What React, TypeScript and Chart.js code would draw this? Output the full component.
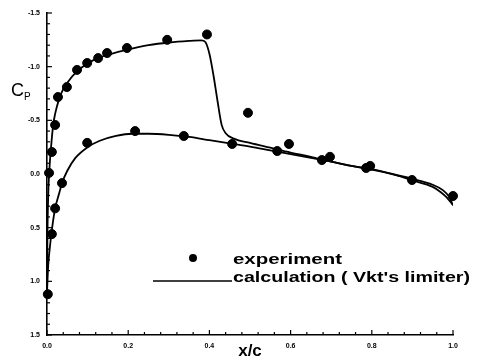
import React, { useEffect, useRef } from "react";
import { Chart, registerables } from "chart.js";

Chart.register(...registerables);

// Experimental Cp data (x/c, Cp)
const expX = [
  0.005, 0.012, 0.02, 0.027, 0.049, 0.074, 0.099, 0.126, 0.148, 0.197, 0.296, 0.394,
  0.495, 0.596, 0.697, 0.796,
  0.002, 0.012, 0.02, 0.037, 0.099, 0.217, 0.337, 0.456, 0.567, 0.677, 0.786, 0.899, 1.0,
];
const expCp = [
  -0.01, -0.205, -0.457, -0.717, -0.81, -0.97, -1.034, -1.08, -1.127, -1.174, -1.25, -1.3,
  -0.57, -0.28, -0.16, -0.075,
  1.12, 0.56, 0.32, 0.085, -0.29, -0.4, -0.354, -0.28, -0.214, -0.13, -0.056, 0.056, 0.205,
];

// Calculation, upper surface
const upperX = [
  0.0, 0.001, 0.003, 0.006, 0.01, 0.015, 0.02, 0.03, 0.04, 0.05, 0.075, 0.1, 0.125, 0.15,
  0.2, 0.25, 0.3, 0.35, 0.38, 0.39, 0.4, 0.41, 0.42, 0.43, 0.44, 0.46, 0.5, 0.55, 0.6,
  0.65, 0.7, 0.75, 0.8, 0.85, 0.9, 0.95, 0.975, 0.99, 1.0,
];
const upperCp = [
  1.1, 0.6, 0.2, -0.05, -0.25, -0.45, -0.56, -0.7, -0.79, -0.85, -0.96, -1.03, -1.08, -1.11,
  -1.16, -1.2, -1.225, -1.24, -1.245, -1.23, -1.12, -0.92, -0.68, -0.46, -0.38, -0.33, -0.29,
  -0.245, -0.2, -0.16, -0.115, -0.075, -0.04, 0.0, 0.045, 0.1, 0.15, 0.21, 0.29,
];

// Calculation, lower surface
const lowerX = [
  0.0, 0.003, 0.008, 0.012, 0.02, 0.03, 0.037, 0.05, 0.07, 0.1, 0.13, 0.17, 0.21, 0.25,
  0.3, 0.35, 0.4, 0.45, 0.5, 0.55, 0.6, 0.65, 0.7, 0.75, 0.8, 0.85, 0.9, 0.95, 0.97, 0.985, 1.0,
];
const lowerCp = [
  1.1, 0.85, 0.65, 0.52, 0.32, 0.18, 0.085, -0.03, -0.15, -0.25, -0.31, -0.355, -0.375, -0.375,
  -0.365, -0.345, -0.315, -0.285, -0.255, -0.22, -0.185, -0.15, -0.115, -0.075, -0.045, 0.0,
  0.06, 0.12, 0.17, 0.22, 0.29,
];

const xTickLabels = ["0.0", "0.2", "0.4", "0.6", "0.8", "1.0"];
const yTickLabels = ["-1.5", "-1.0", "-0.5", "0.0", "0.5", "1.0", "1.5"];

const legendLabels = ["experiment", "calculation ( Vkt's limiter)"];

const isMajorX = (v: number) => Math.abs(v / 0.2 - Math.round(v / 0.2)) < 1e-6;
const isMajorY = (v: number) => Math.abs((v + 1.5) / 0.5 - Math.round((v + 1.5) / 0.5)) < 1e-6;

const decorPlugin = {
  id: "decor",
  afterDatasetsDraw(chart: any) {
    const ctx = chart.ctx;
    const xs = chart.scales.x;
    const ys = chart.scales.y;
    ctx.save();
    ctx.strokeStyle = "#000";
    ctx.lineWidth = 1.2;
    ys.ticks.forEach((t: any) => {
      const py = ys.getPixelForValue(t.value);
      const len = isMajorY(t.value) ? 5 : 3;
      ctx.beginPath();
      ctx.moveTo(xs.left, py);
      ctx.lineTo(xs.left + len, py);
      ctx.stroke();
    });
    xs.ticks.forEach((t: any) => {
      const px = xs.getPixelForValue(t.value);
      const len = isMajorX(t.value) ? 5 : 3;
      ctx.beginPath();
      ctx.moveTo(px, ys.bottom);
      ctx.lineTo(px, ys.bottom - len);
      ctx.stroke();
    });
    ctx.restore();
  },
  afterDraw(chart: any) {
    const ctx = chart.ctx;
    ctx.save();
    ctx.fillStyle = "#000";
    ctx.strokeStyle = "#000";
    // axis titles
    ctx.textBaseline = "alphabetic";
    ctx.textAlign = "left";
    ctx.font = "18px 'Liberation Sans', Arial, sans-serif";
    ctx.fillText("C", 11, 96);
    ctx.font = "10px 'Liberation Sans', Arial, sans-serif";
    ctx.fillText("P", 24, 100);
    ctx.font = "bold 17px 'Liberation Sans', Arial, sans-serif";
    ctx.textAlign = "center";
    ctx.fillText("x/c", 250, 356);

    // legend
    ctx.beginPath();
    ctx.arc(193, 258, 4, 0, Math.PI * 2);
    ctx.fill();
    ctx.lineWidth = 1.5;
    ctx.beginPath();
    ctx.moveTo(153, 281);
    ctx.lineTo(232, 281);
    ctx.stroke();

    ctx.textAlign = "left";
    ctx.font = "bold 15px 'Liberation Sans', Arial, sans-serif";
    const drawStretched = (text: string, x: number, y: number, w: number) => {
      const m = ctx.measureText(text).width;
      ctx.save();
      ctx.translate(x, y);
      ctx.scale(w / m, 1);
      ctx.fillText(text, 0, 0);
      ctx.restore();
    };
    drawStretched(legendLabels[0], 233, 264, 109);
    drawStretched(legendLabels[1], 233, 282, 237);
    ctx.restore();
  },
};

export default function App() {
  const ref = useRef<HTMLCanvasElement | null>(null);

  useEffect(() => {
    if (!ref.current) return;
    const tickFont = { family: "'Liberation Sans', Arial, sans-serif", size: 7, weight: "bold" as const };
    const chart = new Chart(ref.current, {
      type: "scatter",
      data: {
        datasets: [
          {
            label: legendLabels[0],
            data: expX.map((x, i) => ({ x, y: expCp[i] })),
            backgroundColor: "#000",
            borderColor: "#000",
            pointRadius: 4.5,
            pointHoverRadius: 4.5,
            showLine: false,
            clip: false,
          } as any,
          {
            label: legendLabels[1],
            data: upperX.map((x, i) => ({ x, y: upperCp[i] })),
            borderColor: "#000",
            borderWidth: 1.8,
            pointRadius: 0,
            showLine: true,
            cubicInterpolationMode: "monotone",
          } as any,
          {
            label: legendLabels[1] + " lower",
            data: lowerX.map((x, i) => ({ x, y: lowerCp[i] })),
            borderColor: "#000",
            borderWidth: 1.8,
            pointRadius: 0,
            showLine: true,
            cubicInterpolationMode: "monotone",
          } as any,
        ],
      },
      options: {
        responsive: false,
        animation: false,
        events: [],
        layout: { padding: { left: 0, top: 13, right: 26, bottom: 0 } },
        plugins: { legend: { display: false }, tooltip: { enabled: false } },
        scales: {
          x: {
            type: "linear",
            min: 0,
            max: 1,
            afterFit: (s: any) => {
              s.height = 25;
            },
            grid: { display: false, drawTicks: false },
            border: { display: true, color: "#000", width: 1.6 },
            ticks: {
              stepSize: 0.04,
              autoSkip: false,
              maxRotation: 0,
              padding: 7,
              color: "#000",
              font: tickFont,
              callback: (v: any) => {
                const n = Number(v);
                return isMajorX(n) ? xTickLabels[Math.round(n / 0.2)] : "";
              },
            },
          },
          y: {
            type: "linear",
            min: -1.5,
            max: 1.5,
            reverse: true,
            afterFit: (s: any) => {
              s.width = 47;
            },
            grid: { display: false, drawTicks: false },
            border: { display: true, color: "#000", width: 1.6 },
            ticks: {
              stepSize: 0.1,
              autoSkip: false,
              padding: 7,
              color: "#000",
              font: tickFont,
              callback: (v: any) => {
                const n = Number(v);
                return isMajorY(n) ? yTickLabels[Math.round((n + 1.5) / 0.5)] : "";
              },
            },
          },
        },
      },
      plugins: [decorPlugin],
    });
    return () => chart.destroy();
  }, []);

  return (
    <div style={{ position: "absolute", left: 0, top: 0, width: 479, height: 360, background: "#fff" }}>
      <canvas ref={ref} width={479} height={360} style={{ display: "block" }} />
    </div>
  );
}
